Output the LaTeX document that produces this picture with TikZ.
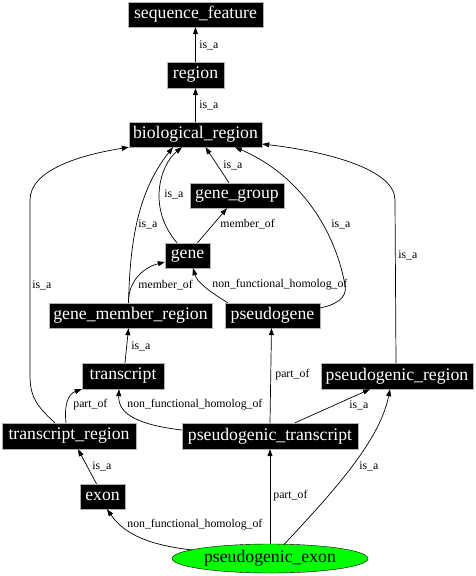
\documentclass[tikz,border=0pt]{standalone}
\usepackage{fontspec}
\setmainfont{Liberation Serif}
\usetikzlibrary{arrows.meta,calc,shapes.geometric}
\newcommand\nfont{\fontsize{17.7}{20}\selectfont}
\newcommand\efont{\fontsize{11.8}{13}\selectfont}
\definecolor{brightgreen}{RGB}{0,255,0}
\begin{document}
\begin{tikzpicture}[x=1pt,y=-1pt,
  cls/.style={draw=gray!60, fill=black, text=white, font=\nfont, inner sep=0pt, minimum height=25},
  lbl/.style={font=\efont, anchor=west, inner sep=0pt, text=black},
  edge/.style={draw=black, line width=0.7pt, -{Triangle[length=7pt,width=5pt]}}]
\useasboundingbox (0,0) rectangle (475,576);
% nodes
\node[cls, minimum width=135] (sf) at (195.5,14.5) {sequence\_feature};
\node[cls, minimum width=57, minimum height=26] (reg) at (195.5,75) {region};
\node[cls, minimum width=133] (bio) at (195.5,134.5) {biological\_region};
\node[cls, minimum width=94] (gg) at (237,195.5) {gene\_group};
\node[cls, minimum width=45] (gene) at (187.5,255.5) {gene};
\node[cls, minimum width=163] (gmr) at (130.5,315.5) {gene\_member\_region};
\node[cls, minimum width=95] (pg) at (272.5,315.5) {pseudogene};
\node[cls, minimum width=82, minimum height=26] (tr) at (123,376) {transcript};
\node[cls, minimum width=152, minimum height=26] (pr) at (397,376) {pseudogenic\_region};
\node[cls, minimum width=134, minimum height=26] (trr) at (69,436) {transcript\_region};
\node[cls, minimum width=176, minimum height=26] (pt) at (270,436) {pseudogenic\_transcript};
\node[cls, minimum width=45] (exon) at (102.5,496.5) {exon};
\node[ellipse, draw=black, fill=brightgreen, text=black, font=\nfont, inner sep=0pt,
      minimum width=196, minimum height=29] (pe) at (270,558.5) {pseudogenic\_exon};
% edges
\draw[edge] (reg.north) -- (sf.south) node[lbl] at (199,45) {is\_a};
\draw[edge] (bio.north) -- (reg.south) node[lbl] at (199,105) {is\_a};
\draw[edge] ($(gg.north)+(-8,0)$) -- ($(bio.south)+(10,0)$) node[lbl] at (223,165) {is\_a};
\draw[edge] ($(gene.north)+(-10.5,0)$) .. controls (147,208) and (160,165) .. ($(bio.south)+(-13.5,0)$)
  node[lbl] at (164,194) {is\_a};
\draw[edge] ($(gene.north)+(10,0)$) -- ($(gg.south)+(-10,0)$) node[lbl] at (220,224) {member\_of};
\draw[edge] ($(gmr.north)+(-2,0)$) .. controls (130,250) and (135,195) .. ($(bio.south)+(-22.5,0)$)
  node[lbl] at (138,224) {is\_a};
\draw[edge] ($(gmr.north)+(-2,0)$) .. controls (128,280) and (145,267) .. ($(gene.west)+(0,6.5)$)
  node[lbl] at (138,285) {member\_of};
\draw[edge] ($(pg.north west)+(3,0)$) .. controls (210,292) and (197,282) .. ($(gene.south)+(5.5,0)$)
  node[lbl] at (212,285) {non\_functional\_homolog\_of};
\draw[edge] ($(pg.east)+(0,-7.5)$) .. controls (335,305) and (348,298) .. (345,285)
  .. controls (335,230) and (300,175) .. ($(bio.south)+(39.5,0)$)
  node[lbl] at (331,224) {is\_a};
\draw[edge] ($(pr.north)+(-1,0)$) -- (395,200) .. controls (395,170) and (330,152) .. ($(bio.east)+(0,9.5)$)
  node[lbl] at (398,255) {is\_a};
\draw[edge] ($(trr.north)+(-14,0)$) .. controls (35,405) and (30,395) .. (30,375) -- (30,200)
  .. controls (30,170) and (80,155) .. (bio.south west)
  node[lbl] at (32,285) {is\_a};
\draw[edge] ($(tr.north)+(2,0)$) -- ($(gmr.south)+(-2,0)$) node[lbl] at (131,346) {is\_a};
\draw[edge] ($(trr.north)+(-3,0)$) .. controls (64,405) and (68,394) .. (tr.south west)
  node[lbl] at (73,405) {part\_of};
\draw[edge] ($(pt.west)+(0,-6)$) .. controls (140,425) and (118,415) .. ($(tr.south)+(-4,0)$)
  node[lbl] at (127,405) {non\_functional\_homolog\_of};
\draw[edge] (pt.north) -- ($(pg.south)+(-1,0)$) node[lbl] at (275,375) {part\_of};
\draw[edge] ($(pt.north)+(25,0)$) -- ($(pr.south)+(-27,0)$) node[lbl] at (349,405) {is\_a};
\draw[edge] ($(exon.north)+(-6,0)$) -- ($(trr.south)+(9,0)$) node[lbl] at (92,466) {is\_a};
\draw[edge] ($(pe.center)+(-78,-8.5)$) .. controls (150,545) and (125,535) .. ($(exon.south)+(4.5,0)$)
  node[lbl] at (127,525) {non\_functional\_homolog\_of};
\draw[edge] (pe.north) -- (pt.south) node[lbl] at (273,496) {part\_of};
\draw[edge] ($(pe.center)+(14,-14)$) .. controls (335,490) and (380,440) .. ($(pr.south)+(-7,0)$)
  node[lbl] at (359,466) {is\_a};
\end{tikzpicture}
\end{document}
